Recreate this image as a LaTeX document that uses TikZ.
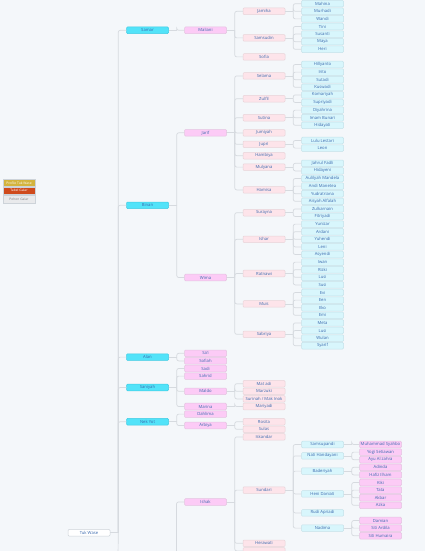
\documentclass[tikz,border=0pt]{standalone}
\usepackage{fontspec}
\setmainfont{Open Sans}

\definecolor{paper}{HTML}{F4F7FA}
\definecolor{ink}{HTML}{3A69AE}
\definecolor{linkgray}{HTML}{D6DADF}
\definecolor{rootline}{HTML}{CDD3D9}
\definecolor{cyanfill}{HTML}{52E3F9}
\definecolor{cyanline}{HTML}{3FCBE2}
\definecolor{magfill}{HTML}{FCCBF6}
\definecolor{magline}{HTML}{E4C3E0}
\definecolor{pinkfill}{HTML}{FDE4EA}
\definecolor{pinkline}{HTML}{E8D3D8}
\definecolor{icefill}{HTML}{D8F6FC}
\definecolor{iceline}{HTML}{C4E2E9}
\definecolor{profilefill}{HTML}{D3B43E}
\definecolor{tabelfill}{HTML}{CF4A1C}
\definecolor{pohonfill}{HTML}{E9EAEC}

\begin{document}
\begin{tikzpicture}[x=1pt,y=-1pt,
  box/.style={rectangle,draw,rounded corners=1,minimum width=42,
    minimum height=6.6,inner sep=0,line width=.5pt,
    font=\fontsize{4.2}{4.8}\selectfont,text=ink},
  root/.style={box,fill=white,draw=rootline},
  gen1/.style={box,fill=cyanfill,draw=cyanline},
  gen2/.style={box,fill=magfill,draw=magline},
  gen3/.style={box,fill=pinkfill,draw=pinkline},
  gen4/.style={box,fill=icefill,draw=iceline},
  legend/.style={rectangle,draw=rootline,minimum width=32,minimum height=7.4,
    inner sep=0,line width=.4pt,font=\fontsize{3.3}{4}\selectfont},
  link/.style={draw=linkgray,line width=.7pt}]

\useasboundingbox (0,0) rectangle (425,551);
\fill[paper] (0,0) rectangle (425,551);
\clip (0,0) rectangle (425,551);

% legend
\draw (19,182.8) node[legend,fill=profilefill,text=white] (LegProfile) {Profile Tuk Wase};
\draw (19,190.6) node[legend,fill=tabelfill,text=white] (LegTabel) {Tabel Galar};
\draw (19,199.2) node[legend,fill=pohonfill,text=gray] (LegPohon) {Pohon Galar};

% root
\draw (89,532.7) node[root] (TukWase) {Tuk Wase};

% anak
\draw (147.5,30.3) node[gen1] (Samar) {Samar};
\draw (147.5,205.3) node[gen1] (Binan) {Binan};
\draw (147.5,357.1) node[gen1] (Alan) {Alan};
\draw (147.5,387.5) node[gen1] (Saniyah) {Saniyah};
\draw (147.5,421.7) node[gen1] (NekYot) {Nek Yot};

% cucu
\draw (205.5,30.3) node[gen2] (Maliani) {Maliani};
\draw (205.5,132.8) node[gen2] (Jarif) {Jarif};
\draw (205.5,277.5) node[gen2] (Wima) {Wima};
\draw (205.5,353.3) node[gen2] (Sai) {Sa'i};
\draw (205.5,360.9) node[gen2] (Sofiah) {Sofiah};
\draw (205.5,368.5) node[gen2] (Sadi) {Sadi};
\draw (205.5,376.1) node[gen2] (Sahrid) {Sahrid};
\draw (205.5,391.3) node[gen2] (Maldo) {Maldo};
\draw (205.5,406.5) node[gen2] (Marina) {Marina};
\draw (205.5,414.1) node[gen2] (Dahlima) {Dahlima};
\draw (205.5,425.5) node[gen2] (Arbiya) {Arbiya};
\draw (205.5,502) node[gen2] (Ishak) {Ishak};

% cicit
\draw (264,11.3) node[gen3] (Jamiha) {Jamiha};
\draw (264,37.9) node[gen3] (Samsudin) {Samsudin};
\draw (264,56.9) node[gen3] (Sofia) {Sofia};
\draw (264,75.9) node[gen3] (Selama) {Selama};
\draw (264,98.7) node[gen3] (Zulfil) {Zulfil};
\draw (264,117.7) node[gen3] (Sutina) {Sutina};
\draw (264,132.9) node[gen3] (Jumiyah) {Jumiyah};
\draw (264,144.3) node[gen3] (Jupri) {Jupri};
\draw (264,155.7) node[gen3] (Hambiya) {Hambiya};
\draw (264,167.1) node[gen3] (Mulyana) {Mulyana};
\draw (264,189.9) node[gen3] (Hamisa) {Hamisa};
\draw (264,212.7) node[gen3] (Surayna) {Surayna};
\draw (264,239.3) node[gen3] (Ishar) {Ishar};
\draw (264,273.5) node[gen3] (Ratnawi) {Ratnawi};
\draw (264,303.9) node[gen3] (Muis) {Muis};
\draw (264,334.3) node[gen3] (Sabriya) {Sabriya};
\draw (264,383.7) node[gen3] (MatAdi) {Mat adi};
\draw (264,391.3) node[gen3] (Marzuki) {Marzuki};
\draw (264,398.9) node[gen3] (Surinah) {Surinah / Mak Inok};
\draw (264,406.5) node[gen3] (Mariyadi) {Mariyadi};
\draw (264,421.7) node[gen3] (Rosita) {Rosita};
\draw (264,429.3) node[gen3] (Sulas) {Sulas};
\draw (264,436.9) node[gen3] (Iskandar) {Iskandar};
\draw (264,490.1) node[gen3] (Sundari) {Sundari};
\draw (264,543.3) node[gen3] (Herawati) {Herawati};
\draw (264,550.9) node[gen3] (IshakNext) {};

% piut
\draw (322.5,3.7) node[gen4] (Mahina) {Mahina};
\draw (322.5,11.3) node[gen4] (Murhadi) {Murhadi};
\draw (322.5,18.9) node[gen4] (Wandi) {Wandi};
\draw (322.5,26.5) node[gen4] (Tini) {Tini};
\draw (322.5,34.1) node[gen4] (Susanti) {Susanti};
\draw (322.5,41.7) node[gen4] (Maya) {Maya};
\draw (322.5,49.3) node[gen4] (Heri) {Heri};
\draw (322.5,64.5) node[gen4] (Hillyanto) {Hillyanto};
\draw (322.5,72.1) node[gen4] (Irito) {Irito};
\draw (322.5,79.7) node[gen4] (Sutadi) {Sutadi};
\draw (322.5,87.3) node[gen4] (Kuswadi) {Kuswadi};
\draw (322.5,94.9) node[gen4] (Komariyah) {Komariyah};
\draw (322.5,102.5) node[gen4] (Supriyadi) {Supriyadi};
\draw (322.5,110.1) node[gen4] (Diyahrina) {Diyahrina};
\draw (322.5,117.7) node[gen4] (ImamBunari) {Imam Bunari};
\draw (322.5,125.3) node[gen4] (Hidayati) {Hidayati};
\draw (322.5,140.5) node[gen4] (LuluLestari) {Lulu Lestari};
\draw (322.5,148.1) node[gen4] (Leon) {Leon};
\draw (322.5,163.3) node[gen4] (JahrulFadli) {Jahrul Fadli};
\draw (322.5,170.9) node[gen4] (Hidayeni) {Hidayeni};
\draw (322.5,178.5) node[gen4] (Aulilyah) {Aulilyah Mandela};
\draw (322.5,186.1) node[gen4] (AndiManetea) {Andi Manetea};
\draw (322.5,193.7) node[gen4] (Yudratriana) {Yudratriana};
\draw (322.5,201.3) node[gen4] (Aisyah) {Aisyah Alfalah};
\draw (322.5,208.9) node[gen4] (Zulkarnain) {Zulkarnain};
\draw (322.5,216.5) node[gen4] (Fitriyadi) {Fitriyadi};
\draw (322.5,224.1) node[gen4] (Yunizar) {Yunizar};
\draw (322.5,231.7) node[gen4] (Ardani) {Ardani};
\draw (322.5,239.3) node[gen4] (Yuhendi) {Yuhendi};
\draw (322.5,246.9) node[gen4] (Leni) {Leni};
\draw (322.5,254.5) node[gen4] (Asyendi) {Asyendi};
\draw (322.5,262.1) node[gen4] (Iwan) {Iwan};
\draw (322.5,269.7) node[gen4] (Rizki) {Rizki};
\draw (322.5,277.3) node[gen4] (LusiA) {Lusi};
\draw (322.5,284.9) node[gen4] (Susi) {Susi};
\draw (322.5,292.5) node[gen4] (Evi) {Evi};
\draw (322.5,300.1) node[gen4] (Een) {Een};
\draw (322.5,307.7) node[gen4] (Eko) {Eko};
\draw (322.5,315.3) node[gen4] (Emi) {Emi};
\draw (322.5,322.9) node[gen4] (Meta) {Meta};
\draw (322.5,330.5) node[gen4] (LusiB) {Lusi};
\draw (322.5,338.1) node[gen4] (Wulan) {Wulan};
\draw (322.5,345.7) node[gen4] (Syarif) {Syarif};
\draw (322.5,444.5) node[gen4] (Samsupandi) {Samsupandi};
\draw (322.5,455.9) node[gen4] (NatiHandayani) {Nati Handayani};
\draw (322.5,471.1) node[gen4] (Baderiyah) {Baderiyah};
\draw (322.5,493.9) node[gen4] (HeniDaniati) {Heni Daniati};
\draw (322.5,512.9) node[gen4] (RudiApriadi) {Rudi Apriadi};
\draw (322.5,528.1) node[gen4] (Nadima) {Nadima};

% anggas
\draw (380.5,444.5) node[gen2] (Muhammad) {Muhammad Syahbo};
\draw (380.5,452.1) node[gen2] (YogiSetiawan) {Yogi Setiawan};
\draw (380.5,459.7) node[gen2] (AyuAlzahra) {Ayu Al zahra};
\draw (380.5,467.3) node[gen2] (Adinda) {Adinda};
\draw (380.5,474.9) node[gen2] (HafizIlham) {Hafiz Ilham};
\draw (380.5,482.5) node[gen2] (Kiki) {Kiki};
\draw (380.5,490.1) node[gen2] (Tata) {Tata};
\draw (380.5,497.7) node[gen2] (Akbar) {Akbar};
\draw (380.5,505.3) node[gen2] (Azka) {Azka};
\draw (380.5,520.5) node[gen2] (Damian) {Damian};
\draw (380.5,528.1) node[gen2] (SitiArdila) {Siti Ardila};
\draw (380.5,535.7) node[gen2] (SitiHumaira) {Siti Humaira};

% garis silsilah
\foreach \p/\kids in {TukWase/{Samar,Binan,Alan,Saniyah,NekYot},
    Samar/{Maliani}, Binan/{Jarif,Wima}, Alan/{Sai,Sofiah},
    Saniyah/{Sadi,Sahrid,Maldo,Marina}, NekYot/{Dahlima,Arbiya},
    Maliani/{Jamiha,Samsudin,Sofia},
    Jarif/{Selama,Zulfil,Sutina,Jumiyah,Jupri,Hambiya,Mulyana,Hamisa},
    Wima/{Surayna,Ishar,Ratnawi,Muis,Sabriya},
    Maldo/{MatAdi,Marzuki,Surinah}, Marina/{Mariyadi}, Arbiya/{Rosita,Sulas},
    Ishak/{Iskandar,Sundari,Herawati,IshakNext},
    Jamiha/{Mahina,Murhadi,Wandi}, Samsudin/{Tini,Susanti,Maya,Heri},
    Selama/{Hillyanto,Irito,Sutadi,Kuswadi}, Zulfil/{Komariyah,Supriyadi},
    Sutina/{Diyahrina,ImamBunari,Hidayati}, Jupri/{LuluLestari,Leon},
    Mulyana/{JahrulFadli,Hidayeni},
    Hamisa/{Aulilyah,AndiManetea,Yudratriana,Aisyah},
    Surayna/{Zulkarnain,Fitriyadi}, Ishar/{Yunizar,Ardani,Yuhendi,Leni,Asyendi},
    Ratnawi/{Iwan,Rizki,LusiA,Susi}, Muis/{Evi,Een,Eko,Emi},
    Sabriya/{Meta,LusiB,Wulan,Syarif},
    Sundari/{Samsupandi,NatiHandayani,Baderiyah,HeniDaniati,RudiApriadi,Nadima},
    Samsupandi/{Muhammad}, NatiHandayani/{YogiSetiawan,AyuAlzahra},
    Baderiyah/{Adinda,HafizIlham}, HeniDaniati/{Kiki,Tata,Akbar,Azka},
    Nadima/{Damian,SitiArdila,SitiHumaira}}
  \foreach \k in \kids {
    \draw[link] (\p.east) -- ++(8,0);
    \draw[link,rounded corners=2] (\p.east) ++(8,0) |- (\k.west);
  }

% cabang yang terpotong di bawah
\coordinate (TrunkEnd) at (118,560);
\coordinate (IshakFork) at (176.5,560);
\draw[link] (TukWase.east) ++(8,0) -- (TrunkEnd);
\draw[link,rounded corners=2] (IshakFork) |- (Ishak.west);
\end{tikzpicture}
\end{document}
